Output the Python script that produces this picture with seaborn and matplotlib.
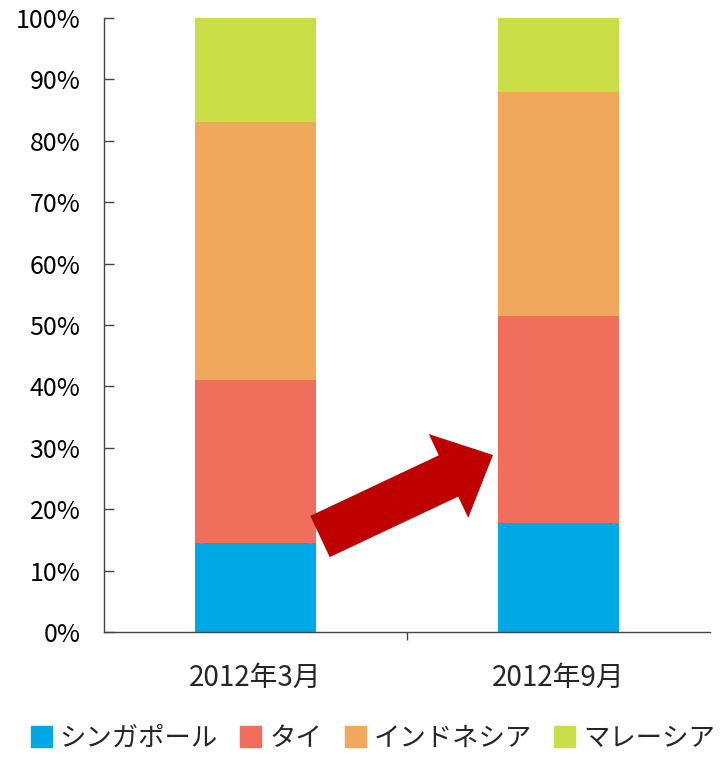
import matplotlib
matplotlib.use("Agg")
import matplotlib.pyplot as plt
import matplotlib.patches as mpatches
import matplotlib.ticker as mticker
import pandas as pd
import seaborn as sns

# Data (share of total, 0-1)
periods = ["2012年3月", "2012年9月"]
countries = ["シンガポール", "タイ", "インドネシア", "マレーシア"]
singapore = [0.145, 0.178]
thailand = [0.265, 0.337]
indonesia = [0.421, 0.364]
malaysia = [0.169, 0.121]
colors = ["#00A9E4", "#F06E5C", "#F0A95C", "#C9DE47"]
y_ticks = [0, 0.1, 0.2, 0.3, 0.4, 0.5, 0.6, 0.7, 0.8, 0.9, 1.0]

sns.set_style("white")
plt.rcParams["font.family"] = ["Noto Sans CJK JP", "DejaVu Sans"]

df = pd.DataFrame({"period": periods, countries[0]: singapore, countries[1]: thailand,
                   countries[2]: indonesia, countries[3]: malaysia})

fig = plt.figure(figsize=(7.24, 7.57), dpi=100)
ax = fig.add_axes([0.1436, 0.1651, 0.8371, 0.8111])

# stacked bars, one seaborn call per series
bottom = [0.0] * len(periods)
for name, col in zip(countries, colors):
    sns.barplot(data=df, x="period", y=name, bottom=bottom, color=col, width=0.4,
                ax=ax, linewidth=0, saturation=1)
    bottom = [b + v for b, v in zip(bottom, df[name])]

ax.set_xlim(-0.5, 1.5)
ax.set_ylim(0, 1)
ax.set_yticks(y_ticks)
ax.yaxis.set_major_formatter(mticker.FuncFormatter(lambda v, p: f"{v * 100:.0f}%"))
ax.set_xlabel("")
ax.set_ylabel("")

# spines and ticks
for side in ["top", "right"]:
    ax.spines[side].set_visible(False)
for side in ["left", "bottom"]:
    ax.spines[side].set_color("#444444")
    ax.spines[side].set_linewidth(1.0)
ax.tick_params(axis="y", left=True, direction="in", length=7, width=1, color="#444444",
               labelsize=18, pad=17, labelcolor="black")
ax.tick_params(axis="x", which="major", length=0, labelsize=20, pad=22)
ax.set_xticks([0.5], minor=True)
ax.tick_params(axis="x", which="minor", bottom=True, direction="out", length=6, width=1,
               color="#444444")

# the red arrow between the bars (inch coordinates)
arrow = mpatches.FancyArrow(3.20, 2.205, 1.73, 0.815, width=0.456, head_width=0.926,
                            head_length=0.492, length_includes_head=True,
                            color="#BE0000", linewidth=0, transform=fig.dpi_scale_trans)
fig.patches.append(arrow)

# legend along the bottom
handles = [mpatches.Patch(color=c, label=n) for n, c in zip(countries, colors)]
fig.legend(handles=handles, loc="lower center", bbox_to_anchor=(0.515, 0.0), ncol=4,
           frameon=False, fontsize=19, handlelength=0.8, handleheight=0.8,
           handletextpad=0.3, columnspacing=0.85, borderpad=0.1, borderaxespad=0.1)

fig.savefig("out.png", dpi=100)
